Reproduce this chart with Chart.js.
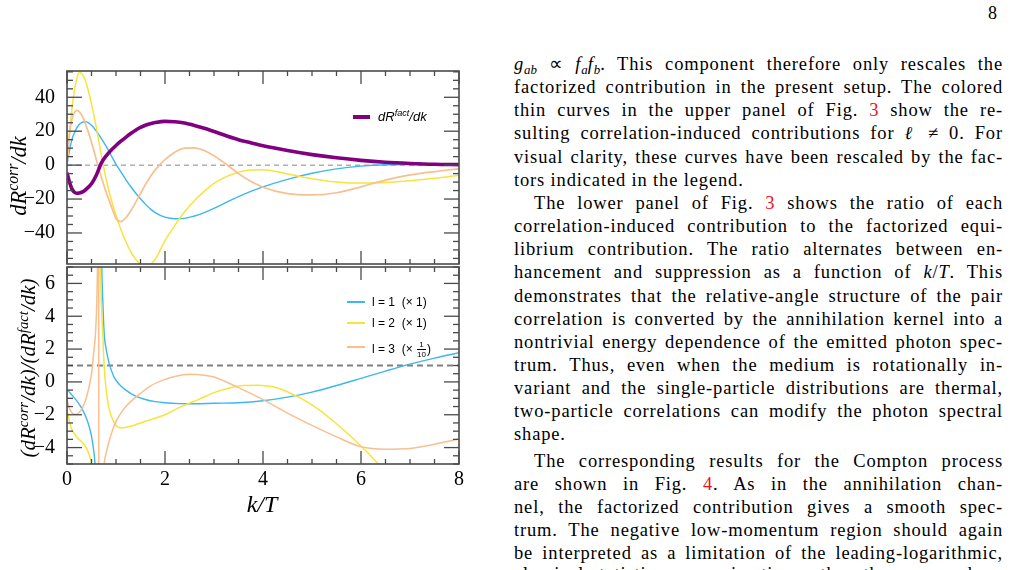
<!DOCTYPE html>
<html><head><meta charset="utf-8">
<script src="https://cdn.jsdelivr.net/npm/chart.js@4.4.1/dist/chart.umd.min.js"></script>
<style>
html,body{margin:0;padding:0;background:#fff;width:1010px;height:570px;overflow:hidden;}
#page{position:relative;width:1010px;height:570px;overflow:hidden;}
canvas{position:absolute;left:0;top:0;}
.tl{position:absolute;left:514px;width:489px;font-family:"Liberation Serif",serif;font-size:18.5px;letter-spacing:0.85px;line-height:23px;height:23px;text-align:justify;text-align-last:justify;color:#000;white-space:nowrap;}
.tl.last{text-align-last:left;}
.tl.ind{left:534px;width:469px;}
.ref{color:#e8141c;}
.tl sub{font-size:70%;vertical-align:-0.3em;line-height:0;letter-spacing:0;}
.ytitle{position:absolute;transform:translate(-50%,-50%) rotate(-90deg);white-space:nowrap;font-family:"Liberation Serif",serif;font-style:italic;color:#000;line-height:26px;}
.ytitle sup,.leg sup{font-size:70%;vertical-align:0.5em;line-height:0;}
.xtitle{position:absolute;white-space:nowrap;font-family:"Liberation Serif",serif;font-style:italic;font-size:24px;color:#000;transform:translateX(-50%);}
.legline{position:absolute;}
.leg{position:absolute;font-family:"Liberation Sans",Arial,sans-serif;font-size:12px;line-height:14px;white-space:nowrap;color:#000;}
.frac{display:inline-block;vertical-align:middle;text-align:center;font-size:8px;line-height:9px;margin:0 1px;}
.frac .num{display:block;border-bottom:1px solid #000;padding:0 1px;}
.frac .den{display:block;}
</style>
</head><body>
<div id="page">
  <canvas id="upper" width="480" height="280"></canvas>
  <canvas id="lower" width="480" height="504"></canvas>
  <div id="overlay"></div>
</div>
<script>
// ---------------- data ----------------
const kUpper = [0, 0.05, 0.1, 0.15, 0.2, 0.25, 0.3, 0.35, 0.4, 0.5, 0.6, 0.7, 0.8, 0.9, 1.0, 1.1, 1.2, 1.3, 1.4, 1.5, 1.6, 1.7, 1.8, 2.0, 2.2, 2.4, 2.6, 2.8, 3.0, 3.25, 3.5, 3.75, 4.0, 4.5, 5.0, 5.5, 6.0, 6.5, 7.0, 7.5, 8.0];
const factUpper = [-4.5, -10, -14, -16, -16.6, -16.5, -16, -15.2, -14, -11, -5.8, 1.2, 5.5, 8.8, 11.6, 14.1, 16.4, 18.6, 20.6, 22.2, 23.5, 24.4, 25.1, 25.8, 25.6, 24.8, 23.4, 21.7, 19.8, 17.3, 15, 13.2, 11.4, 8.6, 6.2, 4.3, 2.8, 1.7, 1.0, 0.5, 0.3];
const l1Upper = [0, 8.5, 15, 19, 22, 24, 25.1, 25.6, 25.5, 23.5, 20, 15.8, 11, 5.8, 0.5, -4, -8.5, -12.6, -16.4, -19.8, -23, -25.8, -28, -30.7, -31.6, -31.4, -30, -28, -25.5, -22, -18.6, -15.5, -12.8, -8.4, -4.8, -2.2, -0.6, 0.2, 0.4, 0.3, 0.1];
const l2Upper = [0, 18, 33, 44, 51, 54.6, 54, 51.5, 47.5, 36, 22, 6, -8.5, -20, -29.6, -38, -45, -51, -55.5, -58.5, -59.5, -58.5, -55.5, -44.5, -35.5, -27.5, -21, -15.5, -10.8, -6.8, -4.2, -2.9, -2.7, -5.2, -8, -9.9, -10.6, -10.2, -9.2, -7.8, -6.0];
const l3Upper = [0, 18.5, 27, 31, 32.3, 31.5, 29.5, 26.5, 22.5, 13.5, 3, -7, -16, -24, -31.5, -33.3, -31, -27, -22, -16.8, -11.5, -6.8, -2.8, 3.2, 7.6, 10, 10.2, 8.6, 5.5, 0.5, -5, -9.5, -13, -16.8, -17.6, -16.3, -12.8, -8.8, -5.8, -3.8, -2.2];

const ratio1K = [0, 0.1, 0.2, 0.3, 0.4, 0.45, 0.5, 0.55, 0.58, 0.61, 0.63, 0.66, 0.69, 0.7, 0.71, 0.73, 0.76, 0.8, 0.85, 0.9, 0.96, 1.0, 1.1, 1.2, 1.4, 1.6, 1.8, 2.0, 2.3, 2.6, 3.0, 3.5, 4.0, 4.5, 5.0, 5.5, 6.0, 6.5, 7.0, 7.5, 8.0];
const ratio1V = [-0.45, -0.8, -1.15, -1.6, -2.25, -2.7, -3.3, -4.3, -5.3, -7, -9.5, null, 12, 9.5, 7, 5, 2.9, 2.0, 1.25, 0.75, 0.3, 0.1, -0.25, -0.5, -0.87, -1.07, -1.2, -1.27, -1.32, -1.33, -1.3, -1.27, -1.15, -0.93, -0.62, -0.22, 0.22, 0.66, 1.08, 1.45, 1.78];
const ratio2K = [0, 0.05, 0.1, 0.2, 0.3, 0.4, 0.45, 0.5, 0.53, 0.56, 0.59, 0.62, 0.645, 0.66, 0.68, 0.7, 0.73, 0.76, 0.8, 0.85, 0.9, 1.0, 1.1, 1.3, 1.6, 2.0, 2.3, 2.7, 3.0, 3.3, 3.6, 3.9, 4.2, 4.5, 5.0, 5.5, 6.0, 6.35, 6.6];
const ratio2V = [-1.7, -2.4, -2.9, -3.35, -3.65, -4.05, -4.4, -4.95, -5.5, -6.5, -8, -11, null, 11, 7.2, 5.0, 2.9, 0.9, -0.5, -1.5, -2.05, -2.65, -2.8, -2.7, -2.4, -2.0, -1.55, -1.05, -0.65, -0.38, -0.22, -0.2, -0.3, -0.6, -1.4, -2.55, -3.9, -5.0, -6.0];
const ratio3K = [0, 0.05, 0.1, 0.15, 0.2, 0.25, 0.3, 0.35, 0.4, 0.45, 0.5, 0.55, 0.58, 0.61, 0.63, 0.64, 0.645, 0.65, 0.66, 0.7, 0.76, 0.8, 0.9, 1.0, 1.1, 1.2, 1.3, 1.5, 1.7, 2.0, 2.2, 2.5, 2.8, 3.0, 3.5, 4.0, 4.5, 5.0, 5.5, 6.0, 6.5, 7.0, 7.5, 8.0];
const ratio3V = [-1.1, -1.6, -1.88, -1.97, -1.97, -1.85, -1.65, -1.34, -0.9, -0.3, 0.5, 1.9, 2.9, 5, 8, 12, 40, -40, -14, -8, -5, -4.3, -3.2, -2.4, -1.9, -1.5, -1.2, -0.7, -0.25, 0.15, 0.33, 0.46, 0.4, 0.3, -0.35, -1.08, -1.9, -2.65, -3.35, -3.95, -4.1, -4.05, -3.8, -3.48];

const refK = [0, 8];
const refUpper = [0, 0];
const refLower = [1, 1];

const xTickLabels = [0, 2, 4, 6, 8];
const upperYTicks = [-40, -20, 0, 20, 40];
const lowerYTicks = [-4, -2, 0, 2, 4, 6];

const seriesNames = ['l = 1', 'l = 2', 'l = 3'];
const seriesScale = ['1', '1', '1/10'];
const factName = 'dR^fact/dk';

// ---------------- styles ----------------
const C_BLUE = '#3db6f2', C_YEL = '#f6e43c', C_ORA = '#f9bf8e', C_PUR = '#800080';
const FONT = "'Liberation Serif', 'Times New Roman', serif";

const pts = (xs, ys) => xs.map((x, i) => ({x: x, y: ys[i]}));
const minus = v => String(v).replace('-', '\u2212');

function minorList(lo, hi, step, majorStep) {
  const out = [];
  for (let i = Math.ceil(lo / step); i * step <= hi + 1e-9; i++) {
    const v = +(i * step).toFixed(6);
    if (Math.abs(v / majorStep - Math.round(v / majorStep)) > 1e-6) out.push(v);
  }
  return out;
}

const frameTicks = {
  id: 'frameTicks',
  afterDatasetsDraw(chart, args, o) {
    const {ctx, chartArea: a} = chart;
    const xs = chart.scales.x, ys = chart.scales.y;
    ctx.save();
    ctx.strokeStyle = '#4a4a4a';
    ctx.lineWidth = 1.3;
    const seg = (x1, y1, x2, y2) => { ctx.beginPath(); ctx.moveTo(x1, y1); ctx.lineTo(x2, y2); ctx.stroke(); };
    const xt = (v, len) => { const p = xs.getPixelForValue(v); seg(p, a.bottom, p, a.bottom - len); seg(p, a.top, p, a.top + len); };
    const yt = (v, len) => { const p = ys.getPixelForValue(v); seg(a.left, p, a.left + len, p); seg(a.right, p, a.right - len, p); };
    o.xMajor.forEach(v => xt(v, 13));
    o.xMinor.forEach(v => xt(v, 5));
    o.yMajor.forEach(v => yt(v, 15));
    o.yMinor.forEach(v => yt(v, 6));
    ctx.lineWidth = 1.6;
    ctx.strokeRect(a.left, a.top, a.right - a.left, a.bottom - a.top);
    ctx.restore();
  }
};

const lineDs = (data, color, width, order, dash) => ({
  data: data, borderColor: color, borderWidth: width, pointRadius: 0, fill: false,
  cubicInterpolationMode: 'monotone', spanGaps: false, order: order, borderDash: dash || []
});

const yAxis = (min, max, ticksArr) => ({
  type: 'linear', min: min, max: max,
  afterBuildTicks: s => { s.ticks = ticksArr.map(v => ({value: v})); },
  afterFit: s => { s.width = 67; },
  grid: {display: false}, border: {display: false},
  ticks: {font: {family: FONT, size: 20}, color: '#000', padding: 4, callback: v => minus(v)}
});

const xMinor = minorList(0, 8, 0.5, 2);

new Chart(document.getElementById('upper'), {
  type: 'line',
  data: {datasets: [
    lineDs(pts(kUpper, factUpper), C_PUR, 3.6, 0),
    lineDs(pts(kUpper, l1Upper), C_BLUE, 1.4, 3),
    lineDs(pts(kUpper, l2Upper), C_YEL, 1.5, 2),
    lineDs(pts(kUpper, l3Upper), C_ORA, 1.7, 1),
    lineDs(pts(refK, refUpper), '#b0b0b0', 1.5, 10, [5, 4])
  ]},
  options: {
    responsive: false, animation: false, devicePixelRatio: 1,
    layout: {padding: {top: 71, right: 21, bottom: 13, left: 0}},
    scales: {
      x: {type: 'linear', min: 0, max: 8, display: false},
      y: yAxis(-58.3, 55.5, upperYTicks)
    },
    plugins: {legend: {display: false}, tooltip: {enabled: false},
      frameTicks: {xMajor: xTickLabels, xMinor: xMinor, yMajor: upperYTicks, yMinor: minorList(-58, 55.5, 5, 20)}}
  },
  plugins: [frameTicks]
});

new Chart(document.getElementById('lower'), {
  type: 'line',
  data: {datasets: [
    lineDs(pts(ratio1K, ratio1V), C_BLUE, 1.4, 3),
    lineDs(pts(ratio2K, ratio2V), C_YEL, 1.5, 2),
    lineDs(pts(ratio3K, ratio3V), C_ORA, 1.5, 1),
    lineDs(pts(refK, refLower), '#808080', 2, 10, [6, 4])
  ]},
  options: {
    responsive: false, animation: false, devicePixelRatio: 1,
    layout: {padding: {top: 267, right: 21, bottom: 0, left: 0}},
    scales: {
      x: {type: 'linear', min: 0, max: 8,
        afterBuildTicks: s => { s.ticks = xTickLabels.map(v => ({value: v})); },
        afterFit: s => { s.height = 40; },
        grid: {display: false}, border: {display: false},
        ticks: {font: {family: FONT, size: 20}, color: '#000', padding: -4, maxRotation: 0, autoSkip: false}},
      y: yAxis(-5, 7, lowerYTicks)
    },
    plugins: {legend: {display: false}, tooltip: {enabled: false},
      frameTicks: {xMajor: xTickLabels, xMinor: xMinor, yMajor: lowerYTicks, yMinor: minorList(-5, 7, 0.5, 2)}}
  },
  plugins: [frameTicks]
});

// ---------------- overlay text ----------------
const ov = document.getElementById('overlay');
function add(html) { ov.insertAdjacentHTML('beforeend', html); }

add('<div class="ytitle" style="left:19px;top:176px;font-size:22.5px;">dR<sup>corr</sup>/dk</div>');
add('<div class="ytitle" style="left:28px;top:368px;font-size:21px;">(dR<sup>corr</sup>/dk)/(dR<sup>fact</sup>/dk)</div>');
add('<div class="xtitle" style="left:262px;top:491px;">k/T</div>');

// upper legend
const [fBase, fRest] = factName.split('^');
const fSup = fRest.split('/')[0], fTail = '/' + fRest.split('/')[1];
add('<div class="legline" style="left:353px;top:115px;width:17px;height:3.6px;background:' + C_PUR + ';"></div>');
add('<div class="leg" style="left:378px;top:109px;font-size:13px;line-height:16px;font-style:italic;">' + fBase + '<sup>' + fSup + '</sup>' + fTail + '</div>');

// lower legend
const legCols = [C_BLUE, C_YEL, C_ORA];
const legY = [301.5, 323, 346.5];
seriesNames.forEach((n, i) => {
  add('<div class="legline" style="left:347px;top:' + Math.round(legY[i] - 1) + 'px;width:18px;height:2px;background:' + legCols[i] + ';"></div>');
  let sc = seriesScale[i];
  if (sc.indexOf('/') >= 0) {
    const p = sc.split('/');
    sc = '<span class="frac"><span class="num">' + p[0] + '</span><span class="den">' + p[1] + '</span></span>';
  }
  add('<div class="leg" style="left:372px;top:' + (legY[i] - 7) + 'px;">' + n + '&nbsp;&nbsp;(×&nbsp;' + sc + ')</div>');
});

// page number
add('<div style="position:absolute;left:988px;top:2px;font-family:' + "'Liberation Serif'" + ';font-size:18px;line-height:23px;">8</div>');

// paragraph text
const R = s => '<span class="ref">' + s + '</span>';
const textLines = [
  ['', '<i>g</i><sub><i>ab</i></sub> ∝ <i>f</i><sub><i>a</i></sub><i>f</i><sub><i>b</i></sub>. This component therefore only rescales the'],
  ['', 'factorized contribution in the present setup. The colored'],
  ['', 'thin curves in the upper panel of Fig. ' + R('3') + ' show the re-'],
  ['', 'sulting correlation-induced contributions for <i>ℓ</i>&nbsp;≠&nbsp;0. For'],
  ['', 'visual clarity, these curves have been rescaled by the fac-'],
  ['last', 'tors indicated in the legend.'],
  ['ind', 'The lower panel of Fig. ' + R('3') + ' shows the ratio of each'],
  ['', 'correlation-induced contribution to the factorized equi-'],
  ['', 'librium contribution. The ratio alternates between en-'],
  ['', 'hancement and suppression as a function of <i>k</i>/<i>T</i>. This'],
  ['', 'demonstrates that the relative-angle structure of the pair'],
  ['', 'correlation is converted by the annihilation kernel into a'],
  ['', 'nontrivial energy dependence of the emitted photon spec-'],
  ['', 'trum. Thus, even when the medium is rotationally in-'],
  ['', 'variant and the single-particle distributions are thermal,'],
  ['', 'two-particle correlations can modify the photon spectral'],
  ['last', 'shape.'],
  ['ind', 'The corresponding results for the Compton process'],
  ['', 'are shown in Fig. ' + R('4') + '. As in the annihilation chan-'],
  ['', 'nel, the factorized contribution gives a smooth spec-'],
  ['', 'trum. The negative low-momentum region should again'],
  ['', 'be interpreted as a limitation of the leading-logarithmic,'],
  ['', 'classical-statistics approximation rather than as a phys-']
];
textLines.forEach((l, i) => {
  let base = i < 17 ? 70.7 + 23.15 * i : 467.3 + 23.2 * (i - 17);
  if (i === 22) base = 580.5;
  add('<div class="tl ' + l[0] + '" style="top:' + (base - 17.7).toFixed(1) + 'px;">' + l[1] + '</div>');
});
</script>
</body></html>
